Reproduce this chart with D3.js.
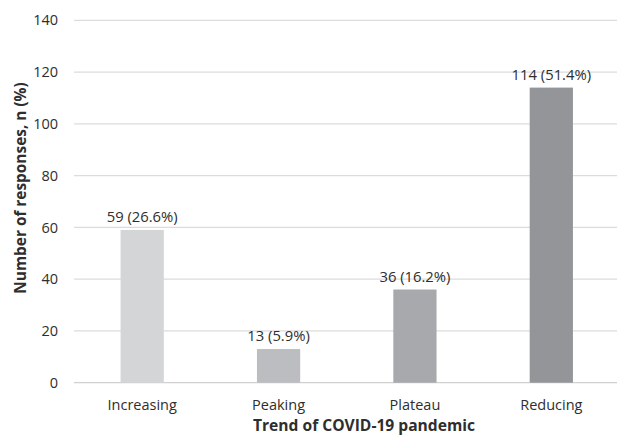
<!DOCTYPE html>
<html>
<head>
<meta charset="utf-8">
<script src="https://cdn.jsdelivr.net/npm/d3@7"></script>
<style>
  html, body { margin: 0; padding: 0; background: #fff; }
  svg { display: block; }
  text { font-family: "Open Sans", "Liberation Sans", sans-serif; fill: #2e2e2e; }
</style>
</head>
<body>
<svg id="chart" width="617" height="435"></svg>
<script>
// Survey responses on the perceived trend of the pandemic
const categories = ["Increasing", "Peaking", "Plateau", "Reducing"];
const counts = [59, 13, 36, 114];
const percents = ["26.6%", "5.9%", "16.2%", "51.4%"];
const barColors = ["#d4d5d7", "#bcbdc0", "#a8a9ac", "#939598"];
const yTicks = [0, 20, 40, 60, 80, 100, 120, 140];

const svg = d3.select("#chart");
const W = 617, H = 435;
const margin = { left: 74, right: -2.5, top: 20.3, bottom: 52.3 };

const x = d3.scaleBand()
  .domain(categories)
  .range([margin.left, W - margin.right])
  .paddingInner(0.683)
  .paddingOuter(0.3415);

const y = d3.scaleLinear()
  .domain([0, 140])
  .range([H - margin.bottom, margin.top]);

// gridlines
svg.append("g")
  .selectAll("line")
  .data(yTicks)
  .join("line")
  .attr("x1", margin.left)
  .attr("x2", W)
  .attr("y1", d => y(d))
  .attr("y2", d => y(d))
  .attr("stroke", d => d === 0 ? "#d0d0d0" : "#dcdcdc")
  .attr("stroke-width", 1.3);

// y tick labels
const yAxis = d3.axisLeft(y).tickValues(yTicks).tickSize(0).tickPadding(0);
const gy = svg.append("g")
  .attr("transform", `translate(${58},0)`)
  .call(yAxis);
gy.select(".domain").remove();
gy.selectAll("text")
  .attr("font-size", 14.5)
  .attr("fill", "#2e2e2e")
  .style("font-family", "'Open Sans', sans-serif");

// bars
svg.append("g")
  .selectAll("rect")
  .data(categories)
  .join("rect")
  .attr("x", d => x(d))
  .attr("width", x.bandwidth())
  .attr("y", (d, i) => y(counts[i]))
  .attr("height", (d, i) => y(0) - y(counts[i]))
  .attr("fill", (d, i) => barColors[i]);

// value labels
svg.append("g")
  .selectAll("text")
  .data(categories)
  .join("text")
  .attr("x", d => x(d) + x.bandwidth() / 2)
  .attr("y", (d, i) => y(counts[i]) - 8)
  .attr("text-anchor", "middle")
  .attr("font-size", 14.8)
  .text((d, i) => `${counts[i]} (${percents[i]})`);

// x tick labels
const xAxis = d3.axisBottom(x).tickSize(0).tickPadding(0);
const gx = svg.append("g")
  .attr("transform", `translate(0,${409.5})`)
  .call(xAxis);
gx.select(".domain").remove();
gx.selectAll("text")
  .attr("dy", 0)
  .attr("font-size", 14.5)
  .attr("fill", "#2e2e2e")
  .style("font-family", "'Open Sans', sans-serif");

// axis titles
svg.append("text")
  .attr("x", 364)
  .attr("y", 430.5)
  .attr("text-anchor", "middle")
  .attr("font-size", 15.6)
  .attr("font-weight", "bold")
  .text("Trend of COVID-19 pandemic");

svg.append("text")
  .attr("transform", `translate(26,${188}) rotate(-90)`)
  .attr("text-anchor", "middle")
  .attr("font-size", 15.4)
  .attr("font-weight", "bold")
  .text("Number of responses, n (%)");
</script>
</body>
</html>
